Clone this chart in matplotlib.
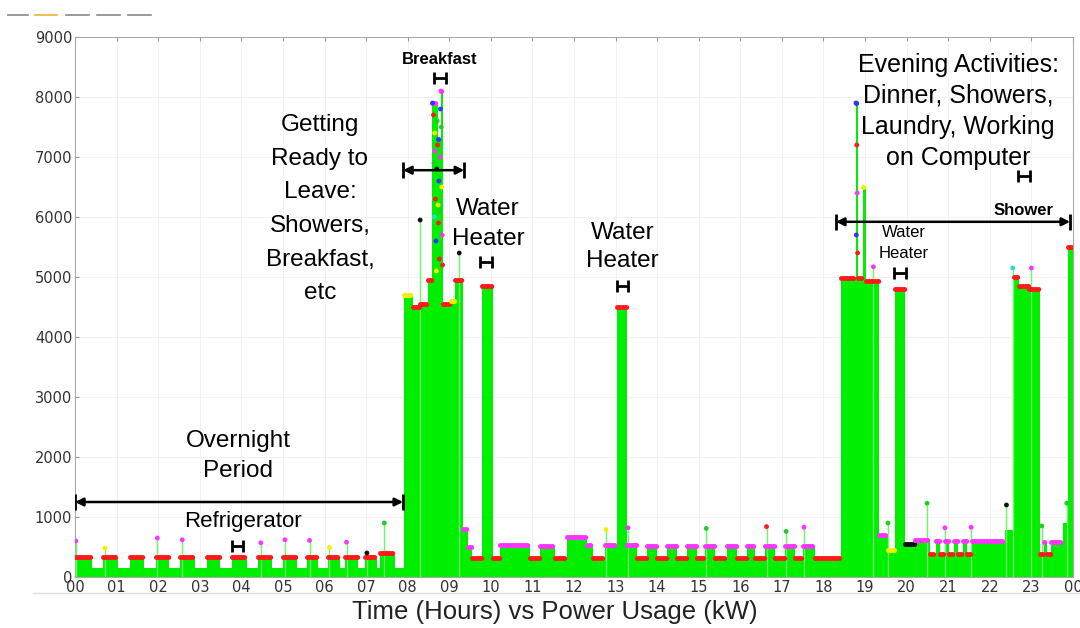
import numpy as np
import matplotlib
matplotlib.use("Agg")
import matplotlib.pyplot as plt
from matplotlib.lines import Line2D

# step segments: start hour, power level (W), colour of the sample dots on top
seg_start = [0.00, 0.41, 0.67, 1.03, 1.32, 1.66, 1.95, 2.26, 2.53, 2.89,
             3.17, 3.49, 3.78, 4.14, 4.40, 4.74, 5.00, 5.34, 5.58, 5.84,
             6.08, 6.37, 6.49, 6.81, 6.97, 7.26, 7.34, 7.70,
             7.91, 8.13, 8.30, 8.50, 8.59, 8.72, 8.79, 8.86, 9.05, 9.15,
             9.33, 9.44, 9.55, 9.79, 10.05, 10.22, 10.94, 11.18, 11.54, 11.83,
             12.31, 12.46, 12.75, 13.03, 13.27, 13.51, 13.75, 13.99, 14.23, 14.47,
             14.71, 14.95, 15.15, 15.39, 15.67, 15.91, 16.15, 16.35, 16.59, 16.83,
             17.07, 17.31, 17.51, 17.79,
             18.42, 18.77, 18.83, 18.95, 19.03, 19.34, 19.55, 19.72, 19.96, 20.20,
             20.56, 20.70, 20.80, 20.92, 21.02, 21.14, 21.24, 21.36, 21.46, 21.56,
             22.37, 22.57, 22.70, 22.95, 23.21, 23.30, 23.38, 23.46, 23.75, 23.87]
seg_end = 24.0
seg_level = [330, 150, 330, 150, 330, 150, 330, 150, 330, 150,
             330, 150, 330, 150, 330, 150, 330, 150, 330, 150,
             330, 150, 330, 150, 330, 150, 400, 150,
             4700, 4500, 4550, 4950, 7900, 7300, 8100, 4550, 4600, 4950,
             800, 500, 316, 4850, 316, 540, 316, 520, 316, 666,
             533, 316, 530, 4500, 530, 316, 520, 316, 520, 316,
             520, 316, 520, 316, 520, 316, 520, 316, 520, 316,
             520, 316, 520, 316,
             4980, 7900, 4980, 6500, 4930, 700, 450, 4800, 550, 620,
             383, 600, 383, 600, 383, 600, 383, 600, 383, 600,
             780, 5000, 4850, 4800, 380, 583, 380, 583, 900, 5500]
seg_dot = ['r', '', 'r', '', 'r', '', 'r', '', 'r', '',
           'r', '', 'r', '', 'r', '', 'r', '', 'r', '',
           'r', '', 'r', '', 'r', '', 'r', '',
           'y', 'r', 'r', 'r', 'm', 'b', 'm', 'r', 'y', 'r',
           'm', 'm', 'r', 'r', 'r', 'm', 'r', 'm', 'r', 'm',
           'm', 'r', 'm', 'r', 'm', 'r', 'm', 'r', 'm', 'r',
           'm', 'r', 'm', 'r', 'm', 'r', 'm', 'r', 'm', 'r',
           'm', 'r', 'm', 'r',
           'r', 'b', 'r', 'y', 'r', 'm', 'y', 'r', 'k', 'm',
           'r', 'm', 'r', 'm', 'r', 'm', 'r', 'm', 'r', 'm',
           '', 'r', 'r', 'r', 'r', 'm', 'r', 'm', '', 'r']

# short spikes (hour, peak W, dot colour)
spike_t = [0.02, 0.72, 1.98, 2.58, 4.47, 5.05, 5.64, 6.12, 6.53, 7.02, 7.44,
           8.30, 9.24, 12.77, 13.30, 15.18, 16.63, 17.10, 17.53,
           19.20, 19.55, 20.49, 20.92, 21.55, 22.40, 22.55, 23.00, 23.25, 23.85]
spike_v = [600, 480, 650, 620, 570, 620, 610, 490, 580, 400, 900,
           5950, 5400, 790, 820, 810, 840, 760, 830,
           5170, 900, 1230, 820, 830, 1200, 5150, 5150, 850, 1230]
spike_c = ['m', 'y', 'm', 'm', 'm', 'm', 'm', 'y', 'm', 'k', 'g',
           'k', 'k', 'y', 'm', 'g', 'r', 'g', 'm',
           'm', 'g', 'g', 'm', 'm', 'k', 'c', 'm', 'g', 'g']

# scattered samples inside the breakfast burst
bf_t = [8.60, 8.62, 8.63, 8.65, 8.66, 8.67, 8.68, 8.70, 8.71, 8.73, 8.74, 8.75,
        8.76, 8.78, 8.80, 8.81, 8.82, 8.84, 8.64, 8.69, 8.72, 8.77, 8.79, 8.83,
        18.78, 18.80, 18.81, 18.79, 18.82]
bf_v = [7900, 7700, 6900, 7400, 7100, 6300, 5600, 6800, 7600, 6200, 5900, 6600,
        5300, 7000, 8100, 7500, 6500, 5200, 6000, 5100, 7200, 6100, 7800, 5700,
        7900, 7200, 6400, 5700, 5400]
bf_c = ['b', 'r', 'g', 'y', 'm', 'r', 'b', 'k', 'g', 'y', 'r', 'b',
        'r', 'm', 'm', 'g', 'y', 'r', 'c', 'y', 'r', 'g', 'b', 'm',
        'b', 'r', 'm', 'b', 'r']

hours = np.arange(25)
hour_labels = ['%02d' % (h % 24) for h in hours]

colmap = {'r': '#ff1a1a', 'm': '#ff33ff', 'y': '#f0f000', 'b': '#3333ff',
          'k': '#111111', 'g': '#22cc22', 'c': '#22dddd'}

fig = plt.figure(figsize=(10.8, 6.28), dpi=100)
ax = fig.add_axes([75/1080, 1-577/628, 998/1080, 540/628])

edges = seg_start + [seg_end]
ax.stairs(seg_level, edges, fill=True, color='#00ee00', zorder=2)

# sample dots along each step top
for i in range(len(seg_start)):
    c = seg_dot[i]
    if c:
        ax.plot([edges[i], edges[i+1]], [seg_level[i], seg_level[i]], color=colmap[c],
                lw=3.6, ls=(0, (0.05, 0.55)), dash_capstyle='round', zorder=4)

ax.vlines(spike_t, 0, spike_v, color='#66ff66', lw=1, zorder=3)
ax.scatter(spike_t, spike_v, s=12, c=[colmap[c] for c in spike_c], zorder=5, linewidths=0)
ax.scatter(bf_t, bf_v, s=12, c=[colmap[c] for c in bf_c], zorder=5, linewidths=0)

ax.set_xlim(0, 24)
ax.set_ylim(0, 9000)
ax.set_xticks(hours)
ax.set_xticklabels(hour_labels)
ax.set_yticks(np.arange(0, 9001, 1000))
ax.tick_params(direction='in', length=3, colors='#999999', labelcolor='#333333',
               labelsize=10.5, top=True, pad=2)
for s in ax.spines.values():
    s.set_color('#aaaaaa')
ax.grid(color='#f0f0f0', lw=0.6, zorder=0)
ax.set_axisbelow(True)

tf = 'Liberation Sans'
big = 17.5
ax.text(3.92, 2020, 'Overnight\nPeriod', ha='center', va='center', fontsize=big, family=tf,
        linespacing=1.5)
ax.text(4.04, 930, 'Refrigerator', ha='center', va='center', fontsize=big - 1.5, family=tf)
ax.text(5.89, 6130, 'Getting\nReady to\nLeave:\nShowers,\nBreakfast,\netc', ha='center',
        va='center', fontsize=big, family=tf, linespacing=1.68)
ax.text(8.78, 8620, 'Breakfast', ha='center', va='center', fontsize=12, family=tf,
        fontweight='bold')
ax.text(9.93, 5880, 'Water\nHeater', ha='center', va='center', fontsize=big, family=tf,
        linespacing=1.45)
ax.text(13.16, 5500, 'Water\nHeater', ha='center', va='center', fontsize=big, family=tf,
        linespacing=1.4)
ax.text(21.24, 7760, 'Evening Activities:\nDinner, Showers,\nLaundry, Working\non Computer',
        ha='center', va='center', fontsize=18, family=tf, linespacing=1.36)
ax.text(19.94, 5570, 'Water\nHeater', ha='center', va='center', fontsize=12, family=tf,
        linespacing=1.5)
ax.text(22.8, 6100, 'Shower', ha='center', va='center', fontsize=12, family=tf,
        fontweight='bold')

# long period arrows
for x0, x1, y in [(0.0, 7.89, 1250), (7.89, 9.36, 6780), (18.3, 23.93, 5920)]:
    ax.annotate('', xy=(x1, y), xytext=(x0, y),
                arrowprops=dict(arrowstyle='<|-|>', color='k', lw=1.8, shrinkA=0, shrinkB=0,
                                mutation_scale=12), zorder=6)
    ax.plot([x0, x1], [y, y], ls='none', marker='|', ms=12, mew=2, color='k', zorder=6)

# short event brackets
hx = [3.91, 8.78, 9.88, 13.17, 19.84, 22.82]
hy = [520, 8320, 5250, 4850, 5070, 6680]
ax.errorbar(hx, hy, xerr=0.14, fmt='none', ecolor='k', capsize=4, elinewidth=2,
            capthick=2, zorder=6)

fig.text(555/1080, 1-612/628, 'Time (Hours) vs Power Usage (kW)', ha='center', va='center',
         fontsize=18.5, family=tf, color='#222222')

# screenshot chrome: separator and little dashes at top-left
fig.add_artist(Line2D([33/1080, 1.0], [1-593/628, 1-593/628], color='#dddddd', lw=1))
for (a, b), c in zip([(8, 28), (35, 57), (66, 89), (97, 120), (128, 151)],
                     ['#888888', '#f0b030', '#888888', '#888888', '#888888']):
    fig.add_artist(Line2D([a/1080, b/1080], [1-15/628, 1-15/628], color=c, lw=1.2))

fig.savefig('out.png', dpi=100)
